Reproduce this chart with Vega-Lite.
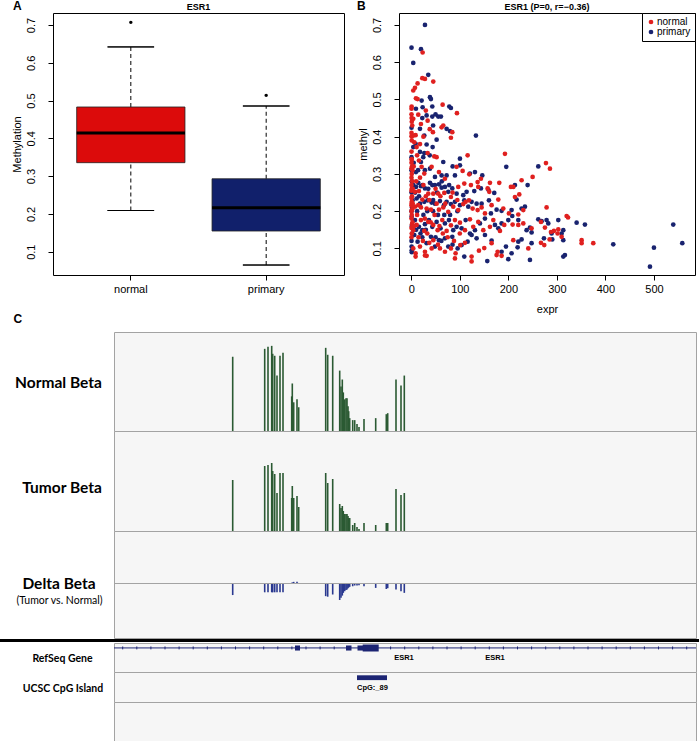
{
  "$schema": "https://vega.github.io/schema/vega-lite/v6.json",
  "background": "white",
  "padding": {"left": 0, "top": 0, "right": 0, "bottom": 0},
  "spacing": 7,
  "config": {
    "font": "Liberation Sans",
    "view": {"stroke": null},
    "axis": {"grid": false, "labelColor": "black", "titleColor": "black", "tickColor": "black", "labelFont": "Liberation Sans", "titleFont": "Liberation Sans", "titleFontWeight": "normal"},
    "title": {"color": "black", "font": "Liberation Sans", "fontWeight": "bold"}
  },
  "resolve": {"scale": {"x": "independent", "y": "independent", "color": "independent", "fill": "independent"}},
  "datasets": {
    "box": [
      {"grp": "normal", "lo": 0.209, "q1": 0.3356, "med": 0.414, "q3": 0.483, "hi": 0.642, "out": 0.707},
      {"grp": "primary", "lo": 0.0647, "q1": 0.1547, "med": 0.2165, "q3": 0.293, "hi": 0.4856, "out": 0.5138}
    ],
    "pts": [
      {"e":28.2,"m":0.700,"g":"primary"},{"e":0.5,"m":0.639,"g":"primary"},{"e":20,"m":0.635,"g":"primary"},{"e":4.1,"m":0.598,"g":"primary"},{"e":35,"m":0.566,"g":"primary"},{"e":21.3,"m":0.497,"g":"primary"},{"e":23.4,"m":0.479,"g":"primary"},{"e":9.6,"m":0.475,"g":"primary"},{"e":38.5,"m":0.506,"g":"primary"},{"e":40.5,"m":0.501,"g":"primary"},{"e":43.3,"m":0.481,"g":"primary"},{"e":78.3,"m":0.481,"g":"primary"},{"e":81.7,"m":0.477,"g":"primary"},{"e":31.6,"m":0.457,"g":"primary"},{"e":43.3,"m":0.454,"g":"primary"},{"e":55.6,"m":0.454,"g":"primary"},{"e":61.1,"m":0.454,"g":"primary"},{"e":22.7,"m":0.450,"g":"primary"},{"e":0.5,"m":0.424,"g":"primary"},{"e":17.9,"m":0.421,"g":"primary"},{"e":26.8,"m":0.403,"g":"primary"},{"e":72.8,"m":0.421,"g":"primary"},{"e":79.7,"m":0.415,"g":"primary"},{"e":133.2,"m":0.403,"g":"primary"},{"e":52.2,"m":0.392,"g":"primary"},{"e":8.9,"m":0.381,"g":"primary"},{"e":31.6,"m":0.379,"g":"primary"},{"e":44,"m":0.372,"g":"primary"},{"e":4.1,"m":0.372,"g":"primary"},{"e":17.9,"m":0.359,"g":"primary"},{"e":26.8,"m":0.356,"g":"primary"},{"e":0.5,"m":0.345,"g":"primary"},{"e":65.9,"m":0.332,"g":"primary"},{"e":100.3,"m":0.341,"g":"primary"},{"e":195.7,"m":0.319,"g":"primary"},{"e":261.7,"m":0.320,"g":"primary"},{"e":85.2,"m":0.320,"g":"primary"},{"e":100.3,"m":0.323,"g":"primary"},{"e":131.2,"m":0.305,"g":"primary"},{"e":62.5,"m":0.296,"g":"primary"},{"e":9.6,"m":0.305,"g":"primary"},{"e":19.9,"m":0.332,"g":"primary"},{"e":24.7,"m":0.345,"g":"primary"},{"e":38.5,"m":0.314,"g":"primary"},{"e":48.8,"m":0.292,"g":"primary"},{"e":72.8,"m":0.296,"g":"primary"},{"e":90,"m":0.296,"g":"primary"},{"e":120.9,"m":0.301,"g":"primary"},{"e":146.3,"m":0.296,"g":"primary"},{"e":239.7,"m":0.270,"g":"primary"},{"e":213.6,"m":0.270,"g":"primary"},
      {"e":4.1,"m":0.270,"g":"primary"},{"e":9.6,"m":0.265,"g":"primary"},{"e":14.4,"m":0.276,"g":"primary"},{"e":19.9,"m":0.267,"g":"primary"},{"e":28.2,"m":0.261,"g":"primary"},{"e":38.5,"m":0.276,"g":"primary"},{"e":43.3,"m":0.270,"g":"primary"},{"e":48.8,"m":0.270,"g":"primary"},{"e":57,"m":0.272,"g":"primary"},{"e":62.5,"m":0.263,"g":"primary"},{"e":69.4,"m":0.265,"g":"primary"},{"e":76.2,"m":0.252,"g":"primary"},{"e":84.5,"m":0.261,"g":"primary"},{"e":93.4,"m":0.247,"g":"primary"},{"e":107.1,"m":0.243,"g":"primary"},{"e":114,"m":0.252,"g":"primary"},{"e":129.8,"m":0.254,"g":"primary"},{"e":143.5,"m":0.261,"g":"primary"},{"e":158.7,"m":0.258,"g":"primary"},{"e":171,"m":0.249,"g":"primary"},
      {"e":2.7,"m":0.229,"g":"primary"},{"e":11,"m":0.234,"g":"primary"},{"e":17.9,"m":0.220,"g":"primary"},{"e":26.8,"m":0.225,"g":"primary"},{"e":33.7,"m":0.229,"g":"primary"},{"e":41.9,"m":0.223,"g":"primary"},{"e":48.8,"m":0.220,"g":"primary"},{"e":59.1,"m":0.227,"g":"primary"},{"e":67.3,"m":0.216,"g":"primary"},{"e":72.8,"m":0.225,"g":"primary"},{"e":81.7,"m":0.219,"g":"primary"},{"e":90,"m":0.225,"g":"primary"},{"e":100.3,"m":0.216,"g":"primary"},{"e":109.2,"m":0.229,"g":"primary"},{"e":117.4,"m":0.212,"g":"primary"},{"e":124.3,"m":0.225,"g":"primary"},{"e":134.6,"m":0.220,"g":"primary"},{"e":144.9,"m":0.220,"g":"primary"},{"e":160,"m":0.229,"g":"primary"},{"e":175.8,"m":0.204,"g":"primary"},{"e":186.1,"m":0.201,"g":"primary"},{"e":206.7,"m":0.203,"g":"primary"},{"e":217,"m":0.231,"g":"primary"},{"e":227.3,"m":0.207,"g":"primary"},{"e":234.2,"m":0.212,"g":"primary"},
      {"e":0.7,"m":0.185,"g":"primary"},{"e":7.6,"m":0.176,"g":"primary"},{"e":15.8,"m":0.158,"g":"primary"},{"e":22.7,"m":0.149,"g":"primary"},{"e":28.2,"m":0.165,"g":"primary"},{"e":36.4,"m":0.176,"g":"primary"},{"e":43.3,"m":0.158,"g":"primary"},{"e":52.2,"m":0.171,"g":"primary"},{"e":60.4,"m":0.154,"g":"primary"},{"e":69.4,"m":0.167,"g":"primary"},{"e":77.6,"m":0.176,"g":"primary"},{"e":86.5,"m":0.149,"g":"primary"},{"e":93.4,"m":0.158,"g":"primary"},{"e":103.7,"m":0.154,"g":"primary"},{"e":112,"m":0.176,"g":"primary"},{"e":120.9,"m":0.140,"g":"primary"},{"e":131.2,"m":0.149,"g":"primary"},{"e":141.5,"m":0.167,"g":"primary"},{"e":151.8,"m":0.180,"g":"primary"},{"e":164.1,"m":0.194,"g":"primary"},{"e":172.4,"m":0.163,"g":"primary"},{"e":179.3,"m":0.154,"g":"primary"},{"e":186.1,"m":0.167,"g":"primary"},{"e":199.9,"m":0.176,"g":"primary"},{"e":208.1,"m":0.187,"g":"primary"},{"e":220.5,"m":0.176,"g":"primary"},{"e":237.6,"m":0.149,"g":"primary"},{"e":261.7,"m":0.178,"g":"primary"},{"e":268.5,"m":0.173,"g":"primary"},{"e":278.8,"m":0.176,"g":"primary"},{"e":282.3,"m":0.167,"g":"primary"},{"e":302.9,"m":0.176,"g":"primary"},{"e":313.2,"m":0.149,"g":"primary"},{"e":340.7,"m":0.169,"g":"primary"},{"e":357.8,"m":0.164,"g":"primary"},{"e":244.5,"m":0.156,"g":"primary"},{"e":247.9,"m":0.143,"g":"primary"},{"e":289.1,"m":0.140,"g":"primary"},{"e":309.8,"m":0.140,"g":"primary"},
      {"e":0.7,"m":0.105,"g":"primary"},{"e":6.2,"m":0.136,"g":"primary"},{"e":13,"m":0.118,"g":"primary"},{"e":22.7,"m":0.130,"g":"primary"},{"e":31.6,"m":0.114,"g":"primary"},{"e":40.5,"m":0.131,"g":"primary"},{"e":48.8,"m":0.105,"g":"primary"},{"e":57,"m":0.122,"g":"primary"},{"e":69.4,"m":0.127,"g":"primary"},{"e":76.2,"m":0.105,"g":"primary"},{"e":84.5,"m":0.131,"g":"primary"},{"e":95.5,"m":0.100,"g":"primary"},{"e":103.7,"m":0.109,"g":"primary"},{"e":116.1,"m":0.118,"g":"primary"},{"e":124.3,"m":0.136,"g":"primary"},{"e":134.6,"m":0.127,"g":"primary"},{"e":151.8,"m":0.136,"g":"primary"},{"e":165.5,"m":0.121,"g":"primary"},{"e":186.1,"m":0.091,"g":"primary"},{"e":195.1,"m":0.105,"g":"primary"},{"e":206.7,"m":0.087,"g":"primary"},{"e":219.1,"m":0.103,"g":"primary"},{"e":220.5,"m":0.118,"g":"primary"},{"e":227.3,"m":0.124,"g":"primary"},{"e":247.9,"m":0.114,"g":"primary"},{"e":273.4,"m":0.127,"g":"primary"},{"e":290.5,"m":0.124,"g":"primary"},{"e":313.2,"m":0.122,"g":"primary"},{"e":416.2,"m":0.111,"g":"primary"},{"e":539.8,"m":0.164,"g":"primary"},{"e":558.4,"m":0.114,"g":"primary"},{"e":500,"m":0.102,"g":"primary"},
      {"e":109.2,"m":0.078,"g":"primary"},{"e":156.6,"m":0.066,"g":"primary"},{"e":199.9,"m":0.071,"g":"primary"},{"e":244.5,"m":0.069,"g":"primary"},{"e":313.2,"m":0.078,"g":"primary"},{"e":316.6,"m":0.082,"g":"primary"},{"e":491.8,"m":0.051,"g":"primary"},
      {"e":1,"m":0.09,"g":"primary"},{"e":1,"m":0.095,"g":"primary"},{"e":0.5,"m":0.12,"g":"primary"},{"e":2,"m":0.14,"g":"primary"},{"e":1,"m":0.16,"g":"primary"},{"e":0.5,"m":0.2,"g":"primary"},{"e":1.5,"m":0.21,"g":"primary"},{"e":0.5,"m":0.25,"g":"primary"},{"e":1,"m":0.28,"g":"primary"},{"e":0.5,"m":0.31,"g":"primary"},
      {"e":8,"m":0.25,"g":"primary"},{"e":16,"m":0.24,"g":"primary"},{"e":23,"m":0.27,"g":"primary"},{"e":35,"m":0.26,"g":"primary"},{"e":45,"m":0.23,"g":"primary"},{"e":53,"m":0.25,"g":"primary"},{"e":63,"m":0.28,"g":"primary"},{"e":78,"m":0.27,"g":"primary"},{"e":12,"m":0.2,"g":"primary"},{"e":25,"m":0.19,"g":"primary"},{"e":33,"m":0.2,"g":"primary"},{"e":45,"m":0.2,"g":"primary"},{"e":55,"m":0.19,"g":"primary"},{"e":68,"m":0.19,"g":"primary"},{"e":80,"m":0.19,"g":"primary"},{"e":95,"m":0.2,"g":"primary"},{"e":10,"m":0.15,"g":"primary"},{"e":19,"m":0.14,"g":"primary"},{"e":30,"m":0.15,"g":"primary"},{"e":50,"m":0.13,"g":"primary"},{"e":62,"m":0.12,"g":"primary"},{"e":85,"m":0.11,"g":"primary"},{"e":5,"m":0.33,"g":"primary"},{"e":14,"m":0.31,"g":"primary"},{"e":28,"m":0.31,"g":"primary"},{"e":38,"m":0.35,"g":"primary"},{"e":45,"m":0.43,"g":"primary"},{"e":50,"m":0.46,"g":"primary"},
      {"e":23.4,"m":0.626,"g":"normal"},{"e":13,"m":0.543,"g":"normal"},{"e":22.7,"m":0.557,"g":"normal"},{"e":28.2,"m":0.555,"g":"normal"},{"e":45.3,"m":0.548,"g":"normal"},{"e":4.1,"m":0.524,"g":"normal"},{"e":7.6,"m":0.531,"g":"normal"},{"e":9.6,"m":0.503,"g":"normal"},{"e":13,"m":0.501,"g":"normal"},{"e":0.7,"m":0.481,"g":"normal"},{"e":0.5,"m":0.475,"g":"normal"},{"e":64.6,"m":0.486,"g":"normal"},{"e":94.1,"m":0.463,"g":"normal"},{"e":14.4,"m":0.459,"g":"normal"},{"e":0.7,"m":0.450,"g":"normal"},{"e":4.1,"m":0.448,"g":"normal"},{"e":19.9,"m":0.434,"g":"normal"},{"e":33.7,"m":0.443,"g":"normal"},{"e":62.5,"m":0.425,"g":"normal"},{"e":65.9,"m":0.430,"g":"normal"},{"e":84.5,"m":0.412,"g":"normal"},{"e":0.5,"m":0.401,"g":"normal"},{"e":4.1,"m":0.403,"g":"normal"},{"e":8.9,"m":0.404,"g":"normal"},{"e":44.6,"m":0.412,"g":"normal"},{"e":81.7,"m":0.397,"g":"normal"},{"e":6.2,"m":0.385,"g":"normal"},{"e":11,"m":0.372,"g":"normal"},{"e":47.4,"m":0.347,"g":"normal"},{"e":52.2,"m":0.345,"g":"normal"},{"e":33.7,"m":0.356,"g":"normal"},{"e":0.7,"m":0.338,"g":"normal"},{"e":193,"m":0.354,"g":"normal"},{"e":116.1,"m":0.350,"g":"normal"},{"e":277.5,"m":0.329,"g":"normal"},{"e":285.7,"m":0.314,"g":"normal"},{"e":93.4,"m":0.319,"g":"normal"},{"e":105.8,"m":0.308,"g":"normal"},{"e":119.5,"m":0.299,"g":"normal"},{"e":26.8,"m":0.301,"g":"normal"},{"e":15.8,"m":0.336,"g":"normal"},{"e":21.3,"m":0.319,"g":"normal"},{"e":41.9,"m":0.319,"g":"normal"},{"e":57,"m":0.305,"g":"normal"},{"e":69.4,"m":0.287,"g":"normal"},{"e":136.7,"m":0.278,"g":"normal"},{"e":143.5,"m":0.287,"g":"normal"},{"e":250,"m":0.292,"g":"normal"},{"e":227.3,"m":0.283,"g":"normal"},{"e":210.2,"m":0.265,"g":"normal"},{"e":162.1,"m":0.276,"g":"normal"},
      {"e":7.6,"m":0.252,"g":"normal"},{"e":15.8,"m":0.254,"g":"normal"},{"e":35,"m":0.247,"g":"normal"},{"e":45.3,"m":0.247,"g":"normal"},{"e":55.6,"m":0.247,"g":"normal"},{"e":68,"m":0.249,"g":"normal"},{"e":81.7,"m":0.238,"g":"normal"},{"e":96.8,"m":0.265,"g":"normal"},{"e":109.2,"m":0.274,"g":"normal"},{"e":122.9,"m":0.270,"g":"normal"},{"e":138,"m":0.265,"g":"normal"},{"e":157.3,"m":0.261,"g":"normal"},{"e":160.7,"m":0.252,"g":"normal"},{"e":181.3,"m":0.276,"g":"normal"},{"e":205.4,"m":0.265,"g":"normal"},{"e":213.6,"m":0.238,"g":"normal"},{"e":222.5,"m":0.245,"g":"normal"},
      {"e":0.7,"m":0.220,"g":"normal"},{"e":7.6,"m":0.212,"g":"normal"},{"e":14.4,"m":0.216,"g":"normal"},{"e":22.7,"m":0.231,"g":"normal"},{"e":31.6,"m":0.207,"g":"normal"},{"e":40.5,"m":0.204,"g":"normal"},{"e":52.2,"m":0.220,"g":"normal"},{"e":57,"m":0.204,"g":"normal"},{"e":65.9,"m":0.210,"g":"normal"},{"e":76.2,"m":0.198,"g":"normal"},{"e":86.5,"m":0.212,"g":"normal"},{"e":96.8,"m":0.203,"g":"normal"},{"e":107.1,"m":0.219,"g":"normal"},{"e":112,"m":0.225,"g":"normal"},{"e":118.8,"m":0.229,"g":"normal"},{"e":126.4,"m":0.207,"g":"normal"},{"e":136.7,"m":0.203,"g":"normal"},{"e":144.9,"m":0.210,"g":"normal"},{"e":151.8,"m":0.194,"g":"normal"},{"e":165.5,"m":0.216,"g":"normal"},{"e":179.3,"m":0.231,"g":"normal"},{"e":189.6,"m":0.207,"g":"normal"},{"e":201.2,"m":0.194,"g":"normal"},{"e":220.5,"m":0.191,"g":"normal"},{"e":230.8,"m":0.203,"g":"normal"},{"e":278.8,"m":0.210,"g":"normal"},
      {"e":4.1,"m":0.149,"g":"normal"},{"e":11,"m":0.163,"g":"normal"},{"e":19.9,"m":0.176,"g":"normal"},{"e":26.8,"m":0.147,"g":"normal"},{"e":35,"m":0.171,"g":"normal"},{"e":45.3,"m":0.163,"g":"normal"},{"e":54.3,"m":0.149,"g":"normal"},{"e":63.9,"m":0.176,"g":"normal"},{"e":72.8,"m":0.147,"g":"normal"},{"e":81.7,"m":0.162,"g":"normal"},{"e":90,"m":0.176,"g":"normal"},{"e":100.3,"m":0.169,"g":"normal"},{"e":110.6,"m":0.149,"g":"normal"},{"e":120.9,"m":0.178,"g":"normal"},{"e":127.7,"m":0.158,"g":"normal"},{"e":138,"m":0.171,"g":"normal"},{"e":148.4,"m":0.149,"g":"normal"},{"e":162.1,"m":0.158,"g":"normal"},{"e":169,"m":0.176,"g":"normal"},{"e":182.7,"m":0.147,"g":"normal"},{"e":191.6,"m":0.163,"g":"normal"},{"e":208.8,"m":0.164,"g":"normal"},{"e":220.5,"m":0.163,"g":"normal"},{"e":230.8,"m":0.167,"g":"normal"},{"e":247.9,"m":0.154,"g":"normal"},{"e":267.2,"m":0.171,"g":"normal"},{"e":275.4,"m":0.156,"g":"normal"},{"e":287.8,"m":0.144,"g":"normal"},{"e":293.9,"m":0.147,"g":"normal"},{"e":302.9,"m":0.151,"g":"normal"},{"e":320.1,"m":0.187,"g":"normal"},{"e":323,"m":0.183,"g":"normal"},
      {"e":4.1,"m":0.100,"g":"normal"},{"e":8.9,"m":0.087,"g":"normal"},{"e":17.9,"m":0.105,"g":"normal"},{"e":28.2,"m":0.091,"g":"normal"},{"e":37.1,"m":0.115,"g":"normal"},{"e":45.3,"m":0.122,"g":"normal"},{"e":59.1,"m":0.100,"g":"normal"},{"e":69.4,"m":0.091,"g":"normal"},{"e":81.7,"m":0.100,"g":"normal"},{"e":91.3,"m":0.087,"g":"normal"},{"e":101,"m":0.109,"g":"normal"},{"e":110.6,"m":0.115,"g":"normal"},{"e":124.3,"m":0.078,"g":"normal"},{"e":139.4,"m":0.094,"g":"normal"},{"e":150.4,"m":0.101,"g":"normal"},{"e":165.5,"m":0.114,"g":"normal"},{"e":177.9,"m":0.091,"g":"normal"},{"e":186.1,"m":0.080,"g":"normal"},{"e":210.2,"m":0.122,"g":"normal"},{"e":241.1,"m":0.100,"g":"normal"},{"e":274,"m":0.109,"g":"normal"},{"e":285,"m":0.124,"g":"normal"},{"e":301.5,"m":0.140,"g":"normal"},{"e":309.8,"m":0.131,"g":"normal"},{"e":375,"m":0.114,"g":"normal"},{"e":351,"m":0.122,"g":"normal"},{"e":351,"m":0.114,"g":"normal"},{"e":267.2,"m":0.115,"g":"normal"},
      {"e":8.9,"m":0.078,"g":"normal"},{"e":28.2,"m":0.081,"g":"normal"},{"e":31.6,"m":0.080,"g":"normal"},{"e":90,"m":0.073,"g":"normal"},{"e":124.3,"m":0.065,"g":"normal"},{"e":175.8,"m":0.082,"g":"normal"},
      {"e":0.5,"m":0.13,"g":"normal"},{"e":1,"m":0.14,"g":"normal"},{"e":0.5,"m":0.155,"g":"normal"},{"e":1.5,"m":0.165,"g":"normal"},{"e":0.5,"m":0.18,"g":"normal"},{"e":1,"m":0.19,"g":"normal"},{"e":0.5,"m":0.2,"g":"normal"},{"e":2,"m":0.205,"g":"normal"},{"e":0.5,"m":0.215,"g":"normal"},{"e":1,"m":0.225,"g":"normal"},{"e":0.5,"m":0.235,"g":"normal"},{"e":1.5,"m":0.24,"g":"normal"},{"e":0.5,"m":0.255,"g":"normal"},{"e":1,"m":0.26,"g":"normal"},{"e":0.5,"m":0.27,"g":"normal"},{"e":2,"m":0.28,"g":"normal"},{"e":0.5,"m":0.29,"g":"normal"},{"e":1,"m":0.3,"g":"normal"},{"e":0.5,"m":0.315,"g":"normal"},{"e":1.5,"m":0.32,"g":"normal"},{"e":0.5,"m":0.33,"g":"normal"},{"e":1,"m":0.34,"g":"normal"},{"e":0.5,"m":0.36,"g":"normal"},{"e":1,"m":0.39,"g":"normal"},{"e":0.5,"m":0.41,"g":"normal"},{"e":2,"m":0.43,"g":"normal"},{"e":1,"m":0.44,"g":"normal"},{"e":0.5,"m":0.46,"g":"normal"},{"e":2.5,"m":0.17,"g":"normal"},{"e":3,"m":0.26,"g":"normal"},{"e":2.5,"m":0.31,"g":"normal"},{"e":3,"m":0.22,"g":"normal"},
      {"e":10,"m":0.28,"g":"normal"},{"e":18,"m":0.29,"g":"normal"},{"e":25,"m":0.27,"g":"normal"},{"e":30,"m":0.24,"g":"normal"},{"e":37,"m":0.23,"g":"normal"},{"e":50,"m":0.26,"g":"normal"},{"e":60,"m":0.24,"g":"normal"},{"e":70,"m":0.22,"g":"normal"},{"e":85,"m":0.25,"g":"normal"},{"e":95,"m":0.23,"g":"normal"},{"e":12,"m":0.19,"g":"normal"},{"e":20,"m":0.21,"g":"normal"},{"e":28,"m":0.18,"g":"normal"},{"e":40,"m":0.17,"g":"normal"},{"e":48,"m":0.19,"g":"normal"},{"e":58,"m":0.16,"g":"normal"},{"e":65,"m":0.14,"g":"normal"},{"e":75,"m":0.13,"g":"normal"},{"e":88,"m":0.12,"g":"normal"},{"e":100,"m":0.14,"g":"normal"},{"e":6,"m":0.16,"g":"normal"},{"e":15,"m":0.13,"g":"normal"},{"e":24,"m":0.12,"g":"normal"},{"e":33,"m":0.14,"g":"normal"},{"e":42,"m":0.10,"g":"normal"},{"e":55,"m":0.11,"g":"normal"},{"e":5,"m":0.32,"g":"normal"},{"e":12,"m":0.35,"g":"normal"},{"e":18,"m":0.38,"g":"normal"},{"e":25,"m":0.40,"g":"normal"},{"e":30,"m":0.47,"g":"normal"},{"e":38,"m":0.42,"g":"normal"}
    ],
    "beta": [
      {"pos":118.7,"normal":0.75,"tumor":0.51,"delta":-0.21},
      {"pos":150.7,"normal":0.83,"tumor":0.65,"delta":-0.16},
      {"pos":154,"normal":0.85,"tumor":0.66,"delta":-0.16},
      {"pos":157.7,"normal":0.86,"tumor":0.68,"delta":-0.16},
      {"pos":158.7,"normal":0.78,"tumor":0.60,"delta":-0.16},
      {"pos":160.7,"normal":0.76,"tumor":0.57,"delta":-0.16},
      {"pos":163,"normal":0.56,"tumor":0.38,"delta":-0.16},
      {"pos":166,"normal":0.76,"tumor":0.58,"delta":-0.16},
      {"pos":169,"normal":0.79,"tumor":0.58,"delta":-0.16},
      {"pos":177.7,"normal":0.35,"tumor":0.33,"delta":0.01},
      {"pos":178.3,"normal":0.48,"tumor":0.45,"delta":0.02},
      {"pos":179.7,"normal":0.29,"tumor":0.33,"delta":0.03},
      {"pos":183,"normal":0.32,"tumor":0.35,"delta":0.03},
      {"pos":184.7,"normal":0.24,"tumor":0.24,"delta":0.01},
      {"pos":211.7,"normal":0.84,"tumor":0.58,"delta":-0.23},
      {"pos":213.7,"normal":0.77,"tumor":0.48,"delta":-0.24},
      {"pos":218.7,"normal":0.76,"tumor":0.52,"delta":-0.2},
      {"pos":225.7,"normal":0.61,"tumor":0.27,"delta":-0.3},
      {"pos":227,"normal":0.45,"tumor":0.23,"delta":-0.26},
      {"pos":228.3,"normal":0.52,"tumor":0.25,"delta":-0.22},
      {"pos":229.3,"normal":0.39,"tumor":0.2,"delta":-0.17},
      {"pos":230.7,"normal":0.32,"tumor":0.17,"delta":-0.14},
      {"pos":232,"normal":0.33,"tumor":0.17,"delta":-0.12},
      {"pos":233,"normal":0.33,"tumor":0.17,"delta":-0.11},
      {"pos":234,"normal":0.25,"tumor":0.15,"delta":-0.085},
      {"pos":234.7,"normal":0.2,"tumor":0.13,"delta":-0.07},
      {"pos":235.7,"normal":0.13,"tumor":0.13,"delta":-0.06},
      {"pos":238.7,"normal":0.11,"tumor":0.06,"delta":-0.05},
      {"pos":240.7,"normal":0.11,"tumor":0.08,"delta":-0.036},
      {"pos":243,"normal":0.07,"tumor":0.04,"delta":-0.036},
      {"pos":245,"normal":0.04,"tumor":0.02,"delta":-0.03},
      {"pos":250,"normal":0.12,"tumor":0.08,"delta":-0.05},
      {"pos":261.7,"normal":0.13,"tumor":0.06,"delta":-0.08},
      {"pos":272.3,"normal":0.17,"tumor":0.08,"delta":-0.1},
      {"pos":273.7,"normal":0.18,"tumor":0.08,"delta":-0.085},
      {"pos":282,"normal":0.52,"tumor":0.42,"delta":-0.11},
      {"pos":287,"normal":0.46,"tumor":0.36,"delta":-0.14},
      {"pos":290.3,"normal":0.56,"tumor":0.38,"delta":-0.17}
    ],
    "geneTicks": [
      {"pos":8.7},{"pos":22.8},{"pos":36.9},{"pos":51.0},{"pos":65.1},{"pos":79.2},{"pos":93.3},{"pos":107.4},{"pos":121.5},{"pos":135.6},{"pos":149.7},{"pos":163.8},{"pos":177.9},{"pos":192.0},{"pos":206.1},{"pos":220.2},{"pos":276.6},{"pos":290.7},{"pos":304.8},{"pos":318.9},{"pos":333.0},{"pos":347.1},{"pos":361.2},{"pos":375.3},{"pos":389.4},{"pos":403.5},{"pos":417.6},{"pos":431.7},{"pos":445.8},{"pos":459.9},{"pos":474.0},{"pos":488.1},{"pos":502.2},{"pos":516.3},{"pos":530.4},{"pos":544.5},{"pos":558.6},{"pos":572.7}
    ]
  },
  "vconcat": [
    {
      "hconcat": [
        {
          "width": 53, "height": 262,
          "title": {"text": "A", "anchor": "start", "dx": 13, "fontSize": 12, "offset": 0},
          "data": {"values": []},
          "mark": "point",
          "encoding": {"x": {"field": "v", "type": "quantitative", "scale": {"domain": [0, 1]},
                             "axis": {"title": "C", "labels": false, "ticks": false, "domain": false, "grid": false, "titleX": 13, "titleY": 38, "titleAlign": "left", "titleAnchor": null, "titleBaseline": "top", "titleFontSize": 12, "titleFontWeight": "bold"}}},
          "view": {"stroke": null}
        },
        {
          "width": 291, "height": 262,
          "title": {"text": "ESR1", "fontSize": 9, "offset": 1, "frame": "group"},
          "view": {"stroke": "black", "strokeWidth": 1},
          "data": {"name": "box"},
          "encoding": {
            "x": {"field": "grp", "type": "nominal", "scale": {"paddingInner": 0.2, "paddingOuter": 0.175},
                  "axis": {"title": null, "labelAngle": 0, "tickSize": 5, "domain": false, "labelFontSize": 11, "labelPadding": 3}}
          },
          "layer": [
            {"mark": {"type": "rule", "strokeDash": [4, 3], "color": "black"},
             "encoding": {"y": {"field": "q3", "type": "quantitative", "title": "Methylation",
                                "scale": {"domain": [0.0383, 0.7318], "nice": false, "zero": false},
                                "axis": {"values": [0.1, 0.2, 0.3, 0.4, 0.5, 0.6, 0.7], "format": ".1f", "labelAngle": 270, "labelAlign": "center", "labelBaseline": "bottom", "tickSize": 5, "labelPadding": 12, "domain": false, "labelFontSize": 11, "titleFontSize": 11, "titlePadding": 3, "labelFlush": false}},
                          "y2": {"field": "hi"}}},
            {"mark": {"type": "rule", "strokeDash": [4, 3], "color": "black"},
             "encoding": {"y": {"field": "lo", "type": "quantitative", "title": "Methylation"}, "y2": {"field": "q1"}}},
            {"mark": {"type": "bar", "width": {"band": 0.43}, "stroke": "black", "strokeWidth": 1, "fill": "black"},
             "encoding": {"y": {"field": "hi", "type": "quantitative", "title": "Methylation"}, "y2": {"field": "hi"}}},
            {"mark": {"type": "bar", "width": {"band": 0.43}, "stroke": "black", "strokeWidth": 1, "fill": "black"},
             "encoding": {"y": {"field": "lo", "type": "quantitative", "title": "Methylation"}, "y2": {"field": "lo"}}},
            {"mark": {"type": "bar", "stroke": "#222222", "strokeWidth": 0.8},
             "encoding": {"y": {"field": "q1", "type": "quantitative", "title": "Methylation"}, "y2": {"field": "q3"},
                          "fill": {"field": "grp", "type": "nominal", "scale": {"domain": ["normal", "primary"], "range": ["#dc0b0b", "#11206b"]}, "legend": null}}},
            {"mark": {"type": "bar", "stroke": "black", "strokeWidth": 3, "fill": "black"},
             "encoding": {"y": {"field": "med", "type": "quantitative", "title": "Methylation"}, "y2": {"field": "med"}}},
            {"mark": {"type": "point", "filled": true, "color": "black", "size": 12, "opacity": 1},
             "encoding": {"y": {"field": "out", "type": "quantitative", "title": "Methylation"}}}
          ]
        },
        {
          "width": 55, "height": 262,
          "title": {"text": "B", "anchor": "start", "dx": 13, "fontSize": 12, "offset": 0},
          "data": {"values": []},
          "mark": "point",
          "view": {"stroke": null}
        },
        {
          "width": 296, "height": 262,
          "title": {"text": "ESR1 (P=0, r=\u22120.36)", "fontSize": 9, "offset": 1, "frame": "group"},
          "view": {"stroke": "black", "strokeWidth": 1},
          "data": {"name": "pts"},
          "mark": {"type": "point", "filled": true, "size": 22, "opacity": 1},
          "encoding": {
            "x": {"field": "e", "type": "quantitative", "title": "expr",
                  "scale": {"domain": [-25.3, 584.6], "nice": false, "zero": false},
                  "axis": {"values": [0, 100, 200, 300, 400, 500], "tickSize": 5, "domain": false, "labelFontSize": 11, "titleFontSize": 11, "labelPadding": 3, "titlePadding": 9, "labelFlush": false}},
            "y": {"field": "m", "type": "quantitative", "title": "methyl",
                  "scale": {"domain": [0.0286, 0.732], "nice": false, "zero": false},
                  "axis": {"values": [0.1, 0.2, 0.3, 0.4, 0.5, 0.6, 0.7], "format": ".1f", "labelAngle": 270, "labelAlign": "center", "labelBaseline": "bottom", "tickSize": 5, "labelPadding": 12, "domain": false, "labelFontSize": 11, "titleFontSize": 11, "titlePadding": 3, "labelFlush": false}},
            "color": {"field": "g", "type": "nominal",
                      "scale": {"domain": ["normal", "primary"], "range": ["#e0201f", "#19236f"]},
                      "legend": {"title": null, "orient": "top-right", "offset": 0, "strokeColor": "black", "fillColor": "white", "padding": 4, "labelFontSize": 10, "symbolSize": 22, "symbolType": "circle", "rowPadding": 0, "labelOffset": 1, "cornerRadius": 0}}
          }
        }
      ],
      "spacing": 0,
      "bounds": "flush",
      "resolve": {"scale": {"x": "independent", "y": "independent", "color": "independent", "fill": "independent"}}
    },
    {
      "vconcat": [
        {
          "hconcat": [
            {
              "vconcat": [
                {
                  "width": 113, "height": 99, "view": {"stroke": null},
                  "data": {"values": [{"label": "Normal Beta"}]},
                  "mark": {"type": "text", "font": "Lato", "fontWeight": "bold", "fontSize": 15.5, "color": "black", "baseline": "middle", "dx": 2, "dy": 1},
                  "encoding": {"text": {"field": "label"}}
                },
                {
                  "width": 113, "height": 100, "view": {"stroke": null},
                  "data": {"values": [{"label": "Tumor Beta"}]},
                  "mark": {"type": "text", "font": "Lato", "fontWeight": "bold", "fontSize": 15.5, "color": "black", "baseline": "middle", "dx": 5.5, "dy": 7},
                  "encoding": {"text": {"field": "label"}}
                },
                {
                  "width": 113, "height": 107, "view": {"stroke": null},
                  "layer": [
                    {
                      "data": {"values": [{"label": "Delta Beta"}]},
                      "mark": {"type": "text", "font": "Lato", "fontWeight": "bold", "fontSize": 15.5, "color": "black", "baseline": "middle", "dx": 2.5, "dy": -1},
                      "encoding": {"text": {"field": "label"}}
                    },
                    {
                      "data": {"values": [{"label": "(Tumor vs. Normal)"}]},
                      "mark": {"type": "text", "font": "Lato", "fontSize": 10.5, "color": "black", "baseline": "middle", "dx": 3, "dy": 16},
                      "encoding": {"text": {"field": "label"}}
                    }
                  ]
                }
              ],
              "spacing": 0,
              "bounds": "flush"
            },
            {
              "vconcat": [
                {
                  "width": 582, "height": 99,
                  "view": {"fill": "#f6f6f6", "stroke": "#a3a3a3"},
                  "data": {"name": "beta"},
                  "mark": {"type": "rule", "color": "#2b5a33", "strokeWidth": 1.6},
                  "encoding": {
                    "x": {"field": "pos", "type": "quantitative", "scale": {"domain": [0, 582], "nice": false, "zero": false}, "axis": null},
                    "y": {"field": "normal", "type": "quantitative", "scale": {"domain": [0, 1], "nice": false}, "axis": null},
                    "y2": {"datum": 0}
                  }
                },
                {
                  "width": 582, "height": 100,
                  "view": {"fill": "#f6f6f6", "stroke": "#a3a3a3"},
                  "data": {"name": "beta"},
                  "mark": {"type": "rule", "color": "#2b5a33", "strokeWidth": 1.6},
                  "encoding": {
                    "x": {"field": "pos", "type": "quantitative", "scale": {"domain": [0, 582], "nice": false, "zero": false}, "axis": null},
                    "y": {"field": "tumor", "type": "quantitative", "scale": {"domain": [0, 1], "nice": false}, "axis": null},
                    "y2": {"datum": 0}
                  }
                },
                {
                  "width": 582, "height": 107,
                  "view": {"fill": "#f6f6f6", "stroke": "#a3a3a3"},
                  "layer": [
                    {
                      "data": {"name": "beta"},
                      "mark": {"type": "rule", "color": "#2a3990", "strokeWidth": 1.6},
                      "encoding": {
                        "x": {"field": "pos", "type": "quantitative", "scale": {"domain": [0, 582], "nice": false, "zero": false}, "axis": null},
                        "y": {"field": "delta", "type": "quantitative", "scale": {"domain": [-0.991, 0.955], "nice": false, "zero": false}, "axis": null},
                        "y2": {"datum": 0}
                      }
                    },
                    {
                      "data": {"values": [{"line": "zero"}]},
                      "mark": {"type": "rule", "color": "#a3a3a3", "strokeWidth": 1},
                      "encoding": {"y": {"datum": 0, "type": "quantitative"}}
                    }
                  ]
                }
              ],
              "spacing": 0,
              "bounds": "flush",
              "resolve": {"scale": {"x": "independent", "y": "independent"}}
            }
          ],
          "spacing": 0,
          "resolve": {"scale": {"x": "independent", "y": "independent"}}
        },
        {
          "width": 699, "height": 3,
          "view": {"stroke": null, "fill": "black"},
          "data": {"values": []},
          "mark": "point"
        },
        {
          "hconcat": [
            {
              "vconcat": [
                {
                  "width": 113, "height": 29, "view": {"stroke": null},
                  "data": {"values": [{"label": "RefSeq Gene"}]},
                  "mark": {"type": "text", "font": "Lato", "fontWeight": "bold", "fontSize": 10.5, "color": "black", "baseline": "middle", "dx": 6, "dy": 1.5},
                  "encoding": {"text": {"field": "label"}}
                },
                {
                  "width": 113, "height": 30, "view": {"stroke": null},
                  "data": {"values": [{"label": "UCSC CpG Island"}]},
                  "mark": {"type": "text", "font": "Lato", "fontWeight": "bold", "fontSize": 10.5, "color": "black", "baseline": "middle", "dx": 6.5, "dy": 2},
                  "encoding": {"text": {"field": "label"}}
                },
                {
                  "width": 113, "height": 45, "view": {"stroke": null},
                  "data": {"values": []},
                  "mark": "point"
                }
              ],
              "spacing": 0,
              "bounds": "flush"
            },
            {
              "vconcat": [
                {
                  "width": 582, "height": 29,
                  "view": {"fill": "#f6f6f6", "stroke": "#a3a3a3"},
                  "layer": [
                    {
                      "data": {"values": [{"gene": "ESR1"}]},
                      "mark": {"type": "rule", "color": "#1c2473", "strokeWidth": 1},
                      "encoding": {"y": {"datum": 0.17, "type": "quantitative", "scale": {"domain": [0, 1], "reverse": true}, "axis": null}}
                    },
                    {
                      "data": {"name": "geneTicks"},
                      "mark": {"type": "rule", "color": "#1c2473", "strokeWidth": 1},
                      "encoding": {"x": {"field": "pos", "type": "quantitative", "scale": {"domain": [0, 582], "nice": false, "zero": false}, "axis": null},
                                   "y": {"datum": 0.12, "type": "quantitative"}, "y2": {"datum": 0.22}}
                    },
                    {
                      "data": {"values": [{"start": 181, "end": 186}, {"start": 232, "end": 237.5}, {"start": 243.5, "end": 249}]},
                      "mark": {"type": "rect", "color": "#1c2473"},
                      "encoding": {"x": {"field": "start", "type": "quantitative"}, "x2": {"field": "end"},
                                   "y": {"datum": 0.086, "type": "quantitative"}, "y2": {"datum": 0.26}}
                    },
                    {
                      "data": {"values": [{"start": 248.7, "end": 264.7}]},
                      "mark": {"type": "rect", "color": "#1c2473"},
                      "encoding": {"x": {"field": "start", "type": "quantitative"}, "x2": {"field": "end"},
                                   "y": {"datum": 0.05, "type": "quantitative"}, "y2": {"datum": 0.29}}
                    },
                    {
                      "data": {"values": [{"pos": 290, "name": "ESR1"}, {"pos": 381, "name": "ESR1"}]},
                      "mark": {"type": "text", "font": "Liberation Sans", "fontWeight": "bold", "fontSize": 7.5, "baseline": "middle", "color": "black"},
                      "encoding": {"x": {"field": "pos", "type": "quantitative"}, "y": {"datum": 0.52, "type": "quantitative"}, "text": {"field": "name"}}
                    }
                  ]
                },
                {
                  "width": 582, "height": 30,
                  "view": {"fill": "#f6f6f6", "stroke": "#a3a3a3"},
                  "data": {"values": [{"start": 243, "end": 273, "name": "CpG:_89"}]},
                  "layer": [
                    {
                      "mark": {"type": "rect", "color": "#1c2473"},
                      "encoding": {"x": {"field": "start", "type": "quantitative", "scale": {"domain": [0, 582], "nice": false, "zero": false}, "axis": null},
                                   "x2": {"field": "end"},
                                   "y": {"datum": 0.11, "type": "quantitative", "scale": {"domain": [0, 1], "reverse": true}, "axis": null},
                                   "y2": {"datum": 0.27}}
                    },
                    {
                      "mark": {"type": "text", "font": "Liberation Sans", "fontWeight": "bold", "fontSize": 7.5, "baseline": "middle", "align": "left", "color": "black"},
                      "encoding": {"x": {"field": "start", "type": "quantitative"}, "y": {"datum": 0.53, "type": "quantitative"}, "text": {"field": "name"}}
                    }
                  ]
                },
                {
                  "width": 582, "height": 45,
                  "view": {"fill": "#f6f6f6", "stroke": "#a3a3a3"},
                  "data": {"values": []},
                  "mark": "point"
                }
              ],
              "spacing": 0,
              "bounds": "flush",
              "resolve": {"scale": {"x": "independent", "y": "independent"}}
            }
          ],
          "spacing": 0,
          "resolve": {"scale": {"x": "independent", "y": "independent"}}
        }
      ],
      "spacing": 0,
      "resolve": {"scale": {"x": "independent", "y": "independent"}}
    }
  ]
}
